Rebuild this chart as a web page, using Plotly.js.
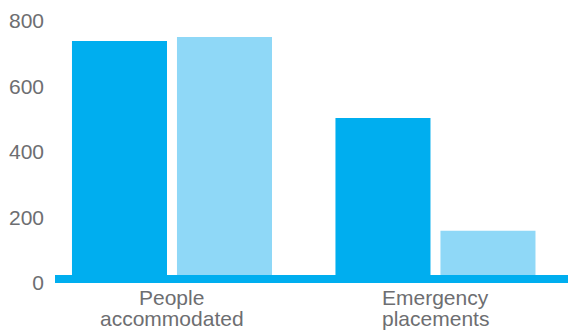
<!DOCTYPE html>
<html>
<head>
<meta charset="utf-8">
<script src="https://cdn.plot.ly/plotly-3.0.1.min.js"></script>
<style>html,body{margin:0;padding:0;background:#fff;}#chart{width:568px;height:331px;}</style>
</head>
<body>
<div id="chart"></div>
<script>
var categories = ["People accommodated", "Emergency placements"];
var series1 = [738, 503];
var series2 = [750, 159];
var yTicks = [0, 200, 400, 600, 800];

var darkBlue = "#00AEEF";
var lightBlue = "#8FD8F7";
var textColor = "#6d6e71";
var fontFam = "Liberation Sans, Arial, Helvetica, sans-serif";

var traces = [
  {type: "bar", x: categories, y: series1, marker: {color: darkBlue}, hoverinfo: "none"},
  {type: "bar", x: categories, y: series2, marker: {color: lightBlue}, hoverinfo: "none"}
];

var annotations = [];
categories.forEach(function (c) {
  var i = c.indexOf(" ");
  var lines = [c.slice(0, i), c.slice(i + 1)];
  lines.forEach(function (t, k) {
    annotations.push({
      x: c, xref: "x", y: 0, yref: "y",
      text: t, showarrow: false, xanchor: "center", yanchor: "middle",
      yshift: -14 - 21 * k,
      font: {family: fontFam, size: 21, color: textColor}
    });
  });
});

var layout = {
  width: 568, height: 331,
  margin: {l: 55, r: 0, t: 5, b: 48, pad: 0},
  paper_bgcolor: "#fff", plot_bgcolor: "#fff",
  showlegend: false,
  barmode: "group",
  bargap: 0.203,
  bargroupgap: 0.095,
  xaxis: {
    type: "category",
    range: [-0.444, 1.503],
    showticklabels: false, showgrid: false, zeroline: false, showline: false, ticks: ""
  },
  yaxis: {
    range: [0, 847.6],
    tickvals: yTicks, ticktext: yTicks.map(String),
    showgrid: false, zeroline: false, showline: false, ticks: "",
    ticklabelstandoff: 10,
    tickfont: {family: fontFam, size: 21, color: textColor}
  },
  shapes: [{
    type: "rect", layer: "above",
    xref: "paper", x0: 0, x1: 1,
    yref: "y", ysizemode: "pixel", yanchor: 0, y0: 0, y1: 8,
    fillcolor: darkBlue, line: {width: 0}
  }],
  annotations: annotations
};

Plotly.newPlot("chart", traces, layout, {displayModeBar: false, staticPlot: true});
</script>
</body>
</html>
